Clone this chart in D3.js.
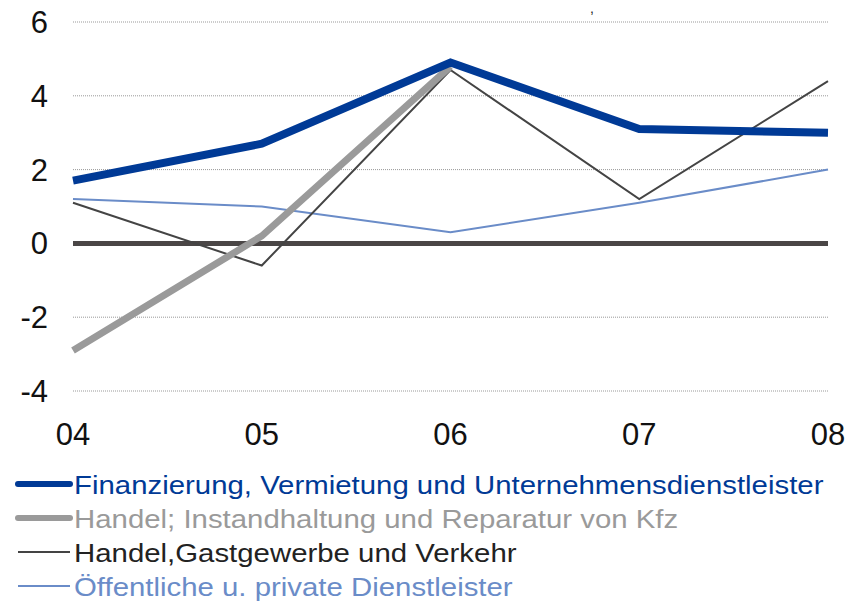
<!DOCTYPE html>
<html>
<head>
<meta charset="utf-8">
<script src="https://cdn.jsdelivr.net/npm/d3@7"></script>
<style>
  body { margin: 0; background: #fff; }
  text { font-family: "Liberation Sans", Arial, sans-serif; }
</style>
</head>
<body>
<div id="chart"></div>
<script>
const years = ["04", "05", "06", "07", "08"];
const yTicks = [-4, -2, 0, 2, 4, 6];
const finanz = [1.7, 2.7, 4.9, 3.1, 3.0];
const handelKfz = [-2.9, 0.2, 4.8, null, null];
const handelGast = [1.1, -0.6, 4.7, 1.2, 4.4];
const oeffentlich = [1.2, 1.0, 0.3, 1.1, 2.0];

const seriesNames = [
  "Finanzierung, Vermietung und Unternehmensdienstleister",
  "Handel; Instandhaltung und Reparatur von Kfz",
  "Handel,Gastgewerbe und Verkehr",
  "Öffentliche u. private Dienstleister"
];

const W = 845, H = 604;
const margin = { top: 22, right: 17, bottom: 213, left: 73 };
const width = W - margin.left - margin.right,
      height = H - margin.top - margin.bottom;

const svg = d3.select("#chart").append("svg")
  .attr("width", W).attr("height", H);

// title remnant at the very top (the rest of the title is off the picture)
svg.append("text").attr("x", 590).attr("y", 3)
  .attr("dominant-baseline", "hanging")
  .style("font-size", "14px").attr("fill", "#222").text(",");

const g = svg.append("g").attr("transform", `translate(${margin.left},${margin.top})`);

const x = d3.scalePoint().domain(years).range([0, width]);
const y = d3.scaleLinear().domain([-4, 6]).range([height, 0]);

// dotted gridlines
g.selectAll(".grid").data(yTicks.filter(d => d !== 0)).enter()
  .append("line")
  .attr("x1", 0).attr("x2", width)
  .attr("y1", d => y(d)).attr("y2", d => y(d))
  .attr("stroke", "#999").attr("stroke-width", 1)
  .attr("stroke-dasharray", "1,1");

// y labels
g.selectAll(".ylab").data(yTicks).enter()
  .append("text")
  .attr("x", -25).attr("y", d => y(d) + 11)
  .attr("text-anchor", "end")
  .style("font-size", "31px").attr("fill", "#111")
  .text(d => d);

// x labels
g.selectAll(".xlab").data(years).enter()
  .append("text")
  .attr("x", d => x(d)).attr("y", height + 54)
  .attr("text-anchor", "middle")
  .style("font-size", "31px").attr("fill", "#111")
  .text(d => d);

const series = [
  { name: seriesNames[0], values: finanz, color: "#003a96", w: 8, text: "#003a96" },
  { name: seriesNames[1], values: handelKfz, color: "#9a9a9a", w: 7, text: "#9a9a9a" },
  { name: seriesNames[2], values: handelGast, color: "#444", w: 2, text: "#222" },
  { name: seriesNames[3], values: oeffentlich, color: "#6a8cc8", w: 2, text: "#6a8cc8" }
];

// zero line (behind series)
g.append("line")
  .attr("x1", 0).attr("x2", width)
  .attr("y1", y(0)).attr("y2", y(0))
  .attr("stroke", "#4a4646").attr("stroke-width", 5);

const line = d3.line()
  .defined(d => d.v !== null)
  .x(d => x(d.year)).y(d => y(d.v));

// thin ones first, then thick
[series[3], series[2], series[1], series[0]].forEach(s => {
  g.append("path")
    .datum(s.values.map((v, i) => ({ year: years[i], v: v })))
    .attr("d", line)
    .attr("fill", "none")
    .attr("stroke", s.color)
    .attr("stroke-width", s.w)
    .attr("stroke-linejoin", "miter");
});

// legend
const legend = svg.append("g").attr("transform", "translate(0,484)");
series.forEach((s, i) => {
  const row = legend.append("g").attr("transform", `translate(0,${i * 34})`);
  row.append("line")
    .attr("x1", 18).attr("x2", 70).attr("y1", 0).attr("y2", 0)
    .attr("stroke", s.color).attr("stroke-width", s.w === 2 ? 2 : 6)
    .attr("stroke-linecap", s.w === 2 ? "butt" : "round");
  row.append("text")
    .attr("transform", "translate(74,10) scale(1.13,1)")
    .style("font-size", "26px").attr("fill", s.text)
    .text(s.name);
});
</script>
</body>
</html>
